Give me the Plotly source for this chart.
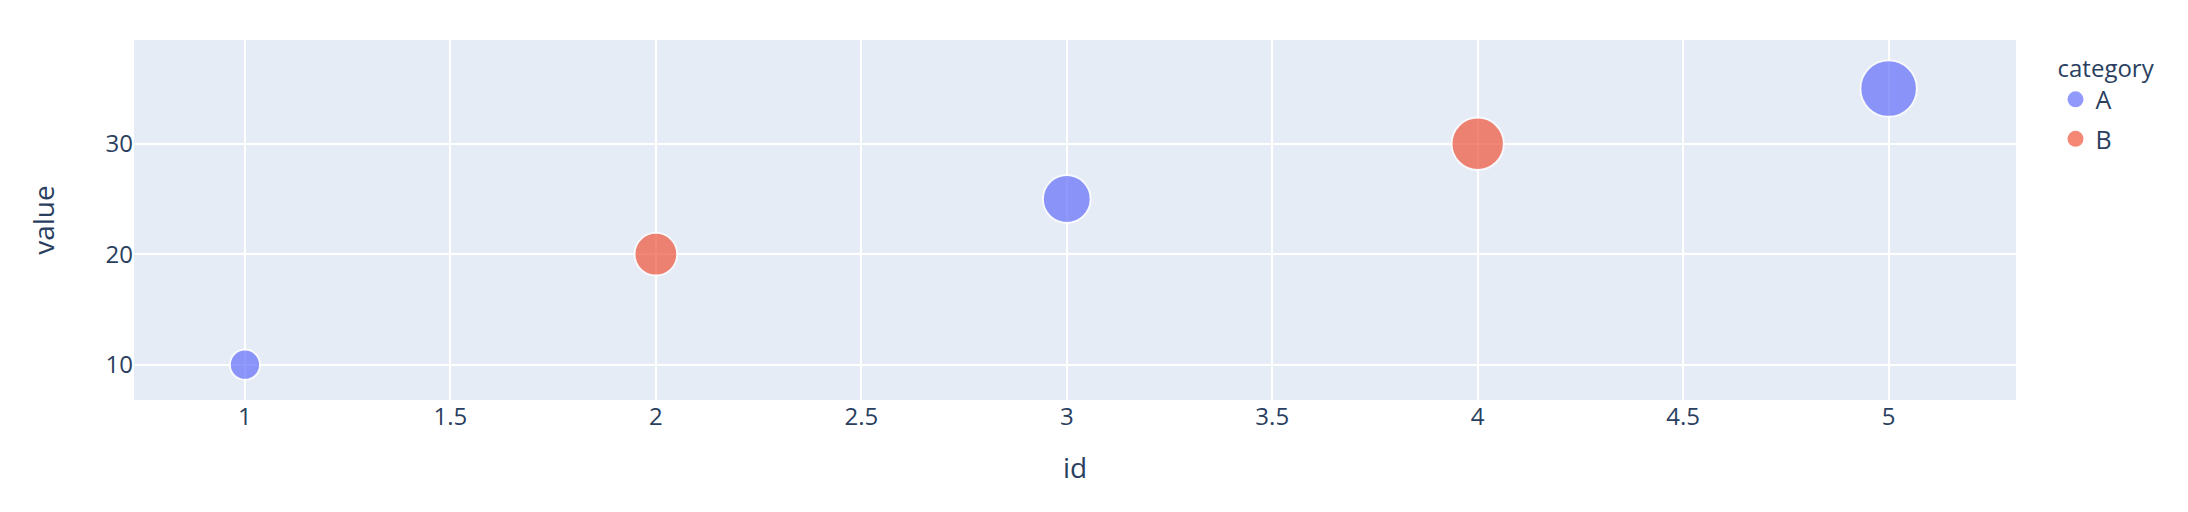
import plotly.express as px
import plotly.graph_objects as go
import pandas as pd

ids = [1, 2, 3, 4, 5]
values = [10, 20, 25, 30, 35]
categories = ["A", "B", "A", "B", "A"]
colors = {"A": "#636efa", "B": "#EF553B"}

df = pd.DataFrame({"id": ids, "value": values, "category": categories})
fig = px.scatter(df, x="id", y="value", color="category", size="value", size_max=40,
                 color_discrete_map=colors)
fig.update_traces(marker=dict(opacity=0.7, line=dict(color="white", width=2)), showlegend=False)
for cat in ["A", "B"]:
    fig.add_trace(go.Scatter(x=[None], y=[None], mode="markers", name=cat, legendgroup=cat,
                             marker=dict(color=colors[cat], size=20, opacity=0.7)))
fig.update_layout(
    font=dict(size=24),
    margin=dict(l=126, r=164, t=32, b=104, autoexpand=False),
    legend=dict(title_text="category", title_font=dict(size=24), font=dict(size=25),
                itemsizing="trace", traceorder="grouped", tracegroupgap=4,
                x=1.021, y=0.985),
)
fig.update_xaxes(range=[0.73, 5.31], title_font=dict(size=28), title_standoff=27, gridwidth=2)
fig.update_yaxes(range=[6.8, 39.4], title_font=dict(size=28), title_standoff=42, gridwidth=2, dtick=10)
fig.write_html("out.html")
